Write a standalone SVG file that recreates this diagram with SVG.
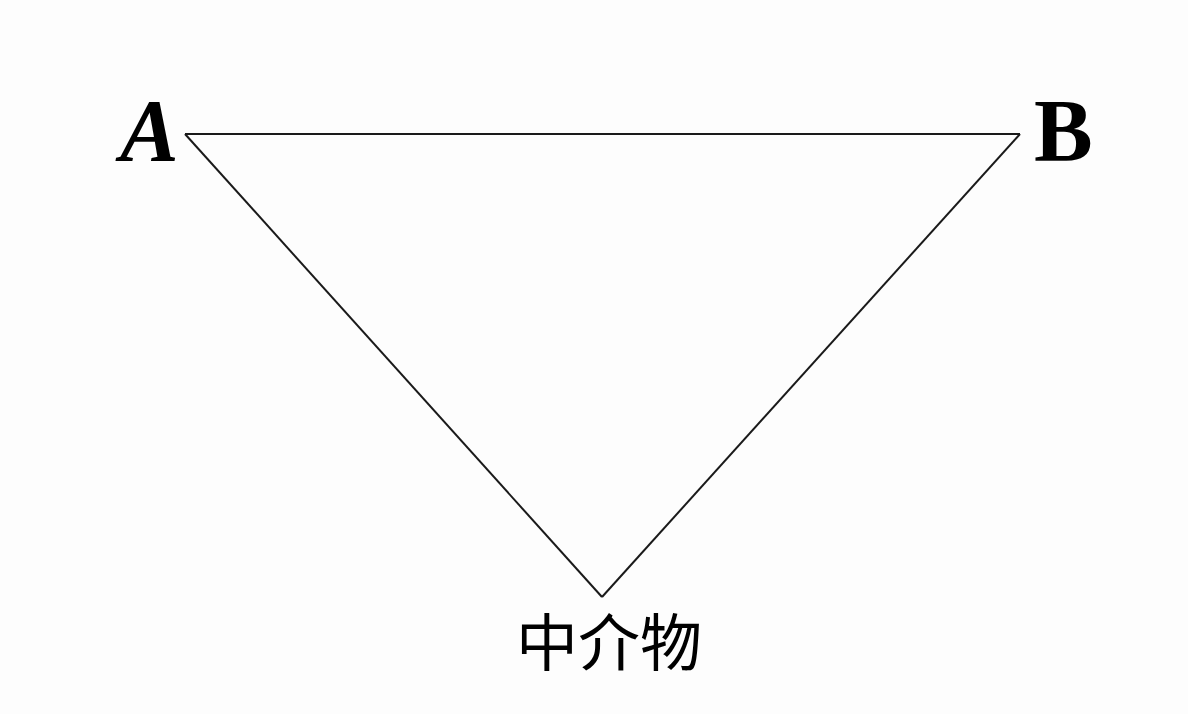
<svg xmlns="http://www.w3.org/2000/svg" width="1188" height="714" viewBox="0 0 1188 714">
<style>
.lbl{font-family:"Liberation Serif","DejaVu Serif",serif;font-weight:bold;font-size:88px;fill:#000}
.cjk{font-family:"Noto Sans CJK SC","Noto Sans",sans-serif;font-size:62px;fill:#000}
.edge{stroke:#1a1a1a;stroke-width:2;fill:none;stroke-linejoin:miter}
</style>
<rect width="1188" height="714" fill="#fdfdfd"/>
<g id="connectors">
<line class="edge" x1="185" y1="134" x2="1020" y2="134"/>
<line class="edge" x1="185" y1="134" x2="602" y2="597"/>
<line class="edge" x1="1020" y1="134" x2="602" y2="597"/>
</g>
<g id="nodeA"><text class="lbl" x="120" y="160" font-style="italic">A</text></g>
<g id="nodeB"><text class="lbl" x="1034" y="160">B</text></g>
<g id="nodeM"><text class="cjk" x="609" y="666" text-anchor="middle">中介物</text></g>
</svg>
